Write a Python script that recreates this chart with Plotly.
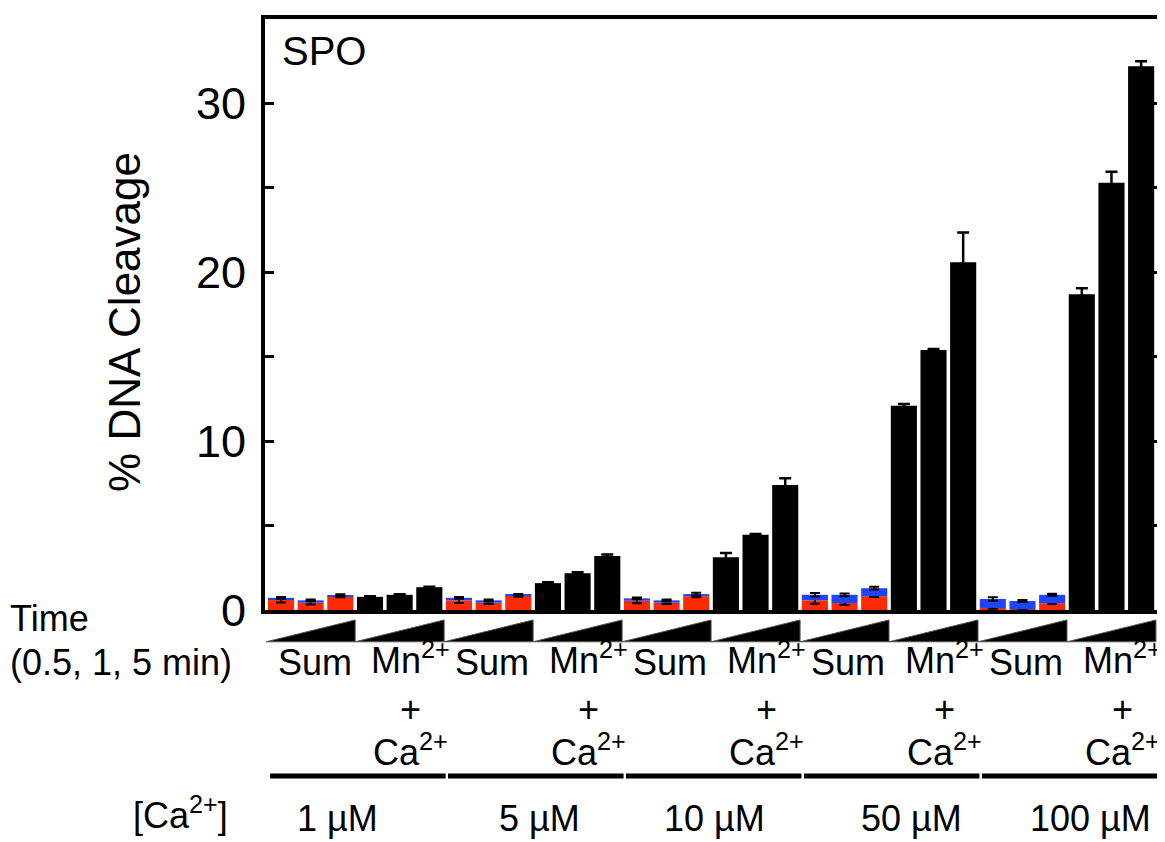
import plotly.graph_objects as go

# ---------------- data ----------------
conc_labels = ["1 µM", "5 µM", "10 µM", "50 µM", "100 µM"]
time_points = ["0.5 min", "1 min", "5 min"]

# "Sum" bars: red lower segment + blue upper segment (per group, 3 time points)
sum_red = [0.59, 0.43, 0.80,
           0.57, 0.43, 0.84,
           0.55, 0.43, 0.82,
           0.57, 0.41, 0.82,
           0.12, 0.04, 0.40]
sum_red_err = [0.15, 0.10, 0.05,
               0.15, 0.08, 0.05,
               0.15, 0.08, 0.06,
               0.20, 0.10, 0.05,
               0.05, 0.03, 0.05]
sum_blue = [0.13, 0.14, 0.08,
            0.15, 0.14, 0.06,
            0.14, 0.14, 0.12,
            0.33, 0.49, 0.47,
            0.53, 0.49, 0.50]
sum_blue_err = [0.05, 0.05, 0.05,
                0.05, 0.05, 0.05,
                0.05, 0.05, 0.08,
                0.10, 0.08, 0.08,
                0.10, 0.06, 0.06]

# "Mn2+ + Ca2+" bars (black)
mnca = [0.78, 0.90, 1.35,
        1.59, 2.18, 3.20,
        3.12, 4.45, 7.40,
        12.1, 15.4, 20.6,
        18.7, 25.3, 32.2]
mnca_err = [0.03, 0.03, 0.03,
            0.05, 0.05, 0.08,
            0.25, 0.05, 0.40,
            0.10, 0.05, 1.75,
            0.35, 0.65, 0.30]

# ---------------- layout helpers ----------------
n_groups = len(conc_labels)
n_t = len(time_points)
sum_x = [6 * g + t for g in range(n_groups) for t in range(n_t)]
mnca_x = [6 * g + 3 + t for g in range(n_groups) for t in range(n_t)]
conc_label_x = [1.92, 8.70, 14.63, 21.27, 27.28]

FONT = "Liberation Sans, Arial, sans-serif"
RED = "#ff2a00"
BLUE = "#1f44ff"
BAR_W = 0.88

fig = go.Figure()
err_style = dict(type="data", color="black", thickness=2, width=5, visible=True)

fig.add_trace(go.Bar(x=sum_x, y=sum_red, width=BAR_W, marker=dict(color=RED, line=dict(width=0)),
                     error_y=dict(array=sum_red_err, **err_style), name="Sum (red)"))
fig.add_trace(go.Bar(x=sum_x, y=sum_blue, width=BAR_W, marker=dict(color=BLUE, line=dict(width=0)),
                     error_y=dict(array=sum_blue_err, **err_style), name="Sum (blue)"))
fig.add_trace(go.Bar(x=mnca_x, y=mnca, width=BAR_W, marker=dict(color="black", line=dict(width=0)),
                     error_y=dict(array=mnca_err, type="data", color="black", thickness=2.5, width=6),
                     name="Mn2+ + Ca2+"))

# plot area in screen pixels: x 265..1161, y 15..610 (page has an 8px body margin)
def py(px):
    return (610 - px) / 595.0

def pxx(px):
    return (px - 265) / 896.0

shapes = []
annotations = []
for k in range(2 * n_groups):
    x0 = 3 * k - 0.5
    x1 = 3 * k + 2.5
    shapes.append(dict(type="path", xref="x", yref="paper",
                       path=f"M {x0},{py(642)} L {x1},{py(642)} L {x1},{py(620)} Z",
                       fillcolor="black", line=dict(color="#555555", width=1)))
for g in range(n_groups):
    shapes.append(dict(type="line", xref="x", yref="paper",
                       x0=6 * g - 0.37, x1=6 * g + 5.55, y0=py(777), y1=py(777),
                       line=dict(color="black", width=5)))

txt = dict(font=dict(family=FONT, size=36, color="black"), showarrow=False)
for g in range(n_groups):
    annotations.append(dict(x=6 * g + 1.13, xref="x", y=py(663), yref="paper",
                            text="Sum", xanchor="center", yanchor="middle", **txt))
    annotations.append(dict(x=6 * g + 4.38, xref="x", y=py(658), yref="paper",
                            text="Mn<sup>2+</sup>", xanchor="center", yanchor="middle", **txt))
    annotations.append(dict(x=6 * g + 4.38, xref="x", y=py(710), yref="paper",
                            text="+", xanchor="center", yanchor="middle", **txt))
    annotations.append(dict(x=6 * g + 4.38, xref="x", y=py(751), yref="paper",
                            text="Ca<sup>2+</sup>", xanchor="center", yanchor="middle", **txt))
    annotations.append(dict(x=conc_label_x[g], xref="x", y=py(820), yref="paper",
                            text=conc_labels[g], xanchor="center", yanchor="middle", **txt))

annotations.append(dict(x=pxx(8), xref="paper", y=py(619), yref="paper", text="Time",
                        xanchor="left", yanchor="middle", **txt))
annotations.append(dict(x=pxx(8), xref="paper", y=py(663), yref="paper", text="(0.5, 1, 5 min)",
                        xanchor="left", yanchor="middle", **txt))
annotations.append(dict(x=pxx(131), xref="paper", y=py(814), yref="paper", text="[Ca<sup>2+</sup>]",
                        xanchor="left", yanchor="middle", **txt))
annotations.append(dict(x=pxx(280), xref="paper", y=py(47), yref="paper", text="SPO",
                        xanchor="left", yanchor="middle",
                        font=dict(family=FONT, size=40, color="black"), showarrow=False))
annotations.append(dict(x=pxx(125), xref="paper", y=py(320), yref="paper", text="% DNA Cleavage",
                        textangle=-90, xanchor="center", yanchor="middle",
                        font=dict(family=FONT, size=44, color="black"), showarrow=False))

fig.update_layout(
    width=1165, height=842,
    margin=dict(l=257, r=12, t=7, b=240),
    barmode="relative",
    showlegend=False,
    plot_bgcolor="white", paper_bgcolor="white",
    shapes=shapes, annotations=annotations,
    font=dict(family=FONT, color="black"),
)
fig.update_xaxes(range=[-0.54, 29.67], showline=True, linecolor="black", linewidth=4, mirror=True,
                 showticklabels=False, ticks="", showgrid=False, zeroline=False)
fig.update_yaxes(range=[0, 35], tickvals=[0, 10, 20, 30], showline=True, linecolor="black", linewidth=4,
                 mirror="ticks", ticks="inside", ticklen=9, tickwidth=3, tickcolor="black",
                 minor=dict(ticks="inside", dtick=5, tick0=0, ticklen=9, tickwidth=3, tickcolor="black"),
                 tickfont=dict(family=FONT, size=45, color="black"), ticklabelstandoff=6,
                 showgrid=False, zeroline=False)

fig.write_html("out.html")
